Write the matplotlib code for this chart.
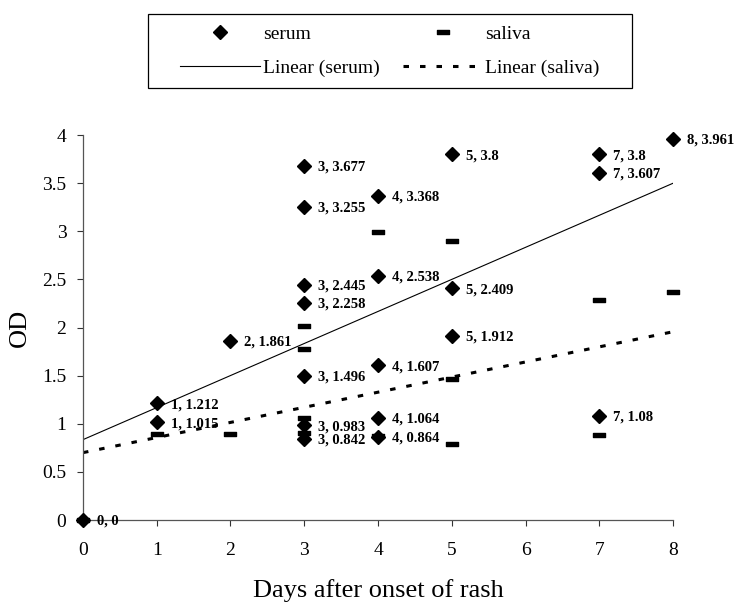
import numpy as np
import matplotlib
matplotlib.use('Agg')
import matplotlib.pyplot as plt
from matplotlib.path import Path
from matplotlib.patches import Rectangle

plt.rcParams['font.family'] = ['Liberation Serif', 'DejaVu Serif']

# serum OD values (days after onset, OD)
serum_days = [0, 1, 1, 2, 3, 3, 3, 3, 3, 3, 3, 4, 4, 4, 4, 4, 5, 5, 5, 7, 7, 7, 8]
serum_od = [0, 1.212, 1.015, 1.861, 3.677, 3.255, 2.445, 2.258, 1.496, 0.983, 0.842,
            3.368, 2.538, 1.607, 1.064, 0.864, 3.8, 2.409, 1.912, 3.8, 3.607, 1.08, 3.961]

# saliva OD values (no labels in the original)
saliva_days = [0, 1, 2, 3, 3, 3, 3, 4, 4, 5, 5, 5, 7, 7, 8]
saliva_od = [0, 0.89, 0.89, 2.02, 1.78, 1.06, 0.90, 2.99, 0.87, 2.90, 1.47, 0.79, 2.29, 0.88, 2.37]

# trendlines: (slope, intercept)
serum_fit = (0.333, 0.835)
saliva_fit = (0.157, 0.70)

x_ticks = [0, 1, 2, 3, 4, 5, 6, 7, 8]
y_ticks = [0, 0.5, 1, 1.5, 2, 2.5, 3, 3.5, 4]

fig = plt.figure(figsize=(7.37, 6.02), dpi=100)
ax = fig.add_axes([0.1126, 0.1362, 0.8006, 0.6395])

dash = Path([(-1, -0.32), (1, -0.32), (1, 0.32), (-1, 0.32), (-1, -0.32)],
            [Path.MOVETO, Path.LINETO, Path.LINETO, Path.LINETO, Path.CLOSEPOLY])

xs = np.array([0, 8])
ln1, = ax.plot(xs, serum_fit[0] * xs + serum_fit[1], color='black', lw=0.8,
               label='Linear (serum)')
ln2, = ax.plot(xs, saliva_fit[0] * xs + saliva_fit[1], color='black', lw=2.2,
               linestyle=(0, (1.8, 3.6)), label='Linear (saliva)')

sc2, = ax.plot(saliva_days, saliva_od, linestyle='none', marker=dash, ms=9,
               color='black', label='saliva', clip_on=False, zorder=3)
sc1, = ax.plot(serum_days, serum_od, linestyle='none', marker='D', ms=7,
               color='black', label='serum', clip_on=False, zorder=4)

for d, v in zip(serum_days, serum_od):
    ax.annotate(f"{d}, {v:g}", (d, v), xytext=(10, -1), textcoords='offset points',
                va='center', ha='left', fontsize=10.5, fontweight='bold',
                annotation_clip=False)

ax.set_xlim(0, 8)
ax.set_ylim(0, 4)
ax.set_xticks(x_ticks)
ax.set_yticks(y_ticks)
ax.set_xticklabels([str(t) for t in x_ticks])
ax.set_yticklabels([f"{t:g}" for t in y_ticks])
ax.tick_params(labelsize=14, direction='out', length=4, width=0.8, colors='#333333',
               labelcolor='black')
ax.tick_params(axis='x', pad=12)
ax.tick_params(axis='y', pad=8)
for s in ['top', 'right']:
    ax.spines[s].set_visible(False)
for s in ['left', 'bottom']:
    ax.spines[s].set_color('#555555')
    ax.spines[s].set_linewidth(0.9)

ax.set_xlabel('Days after onset of rash', fontsize=19, labelpad=14)
ax.set_ylabel('OD', fontsize=19, labelpad=8)

# legend box drawn separately so the entries can sit with wider side margins
fig.patches.append(Rectangle((0.2008, 0.8538), 0.6567, 0.1229, transform=fig.transFigure,
                             fill=False, edgecolor='black', linewidth=0.9))
leg = fig.legend([sc1, ln1, sc2, ln2], ['serum', 'Linear (serum)', 'saliva', 'Linear (saliva)'],
                 loc='center', ncol=2, bbox_to_anchor=(0.5291, 0.9153),
                 fontsize=14, frameon=False, handlelength=4.1, handletextpad=0.15,
                 columnspacing=1.2, labelspacing=0.85)

plt.savefig('out.png', dpi=100)
